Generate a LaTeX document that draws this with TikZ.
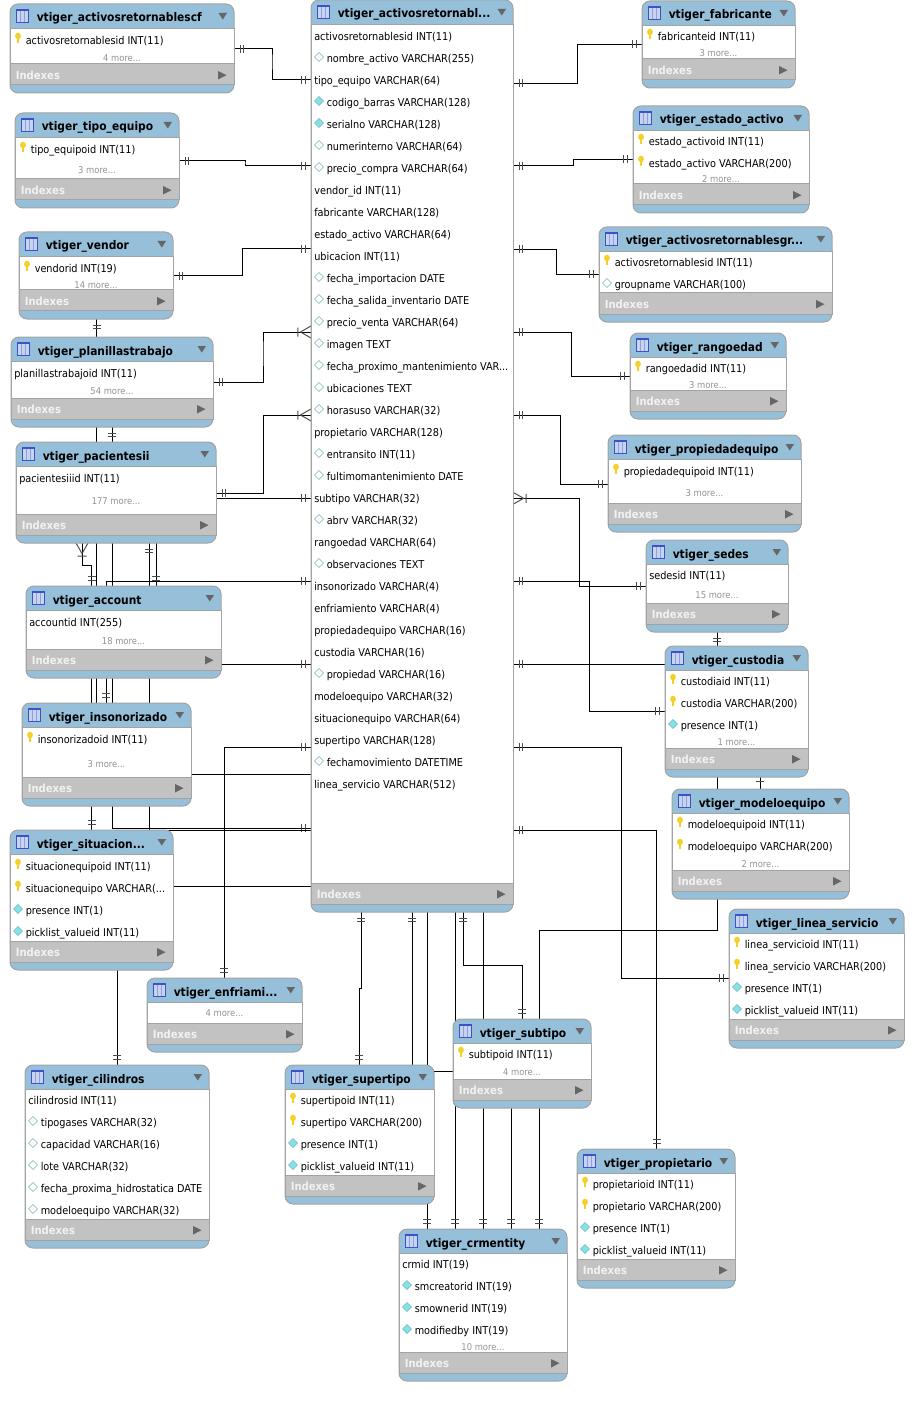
\documentclass[tikz,border=0pt]{standalone}
\usepackage{fontspec}
\setmainfont{DejaVu Sans Condensed}
\usetikzlibrary{backgrounds,decorations.markings}

\definecolor{headBlue}{HTML}{96BFDA}
\definecolor{frameGray}{HTML}{A3A3A3}
\definecolor{indexGray}{HTML}{C2C2C2}
\definecolor{triGray}{HTML}{666666}
\definecolor{keyYellow}{HTML}{F5D027}
\definecolor{iconBlue}{HTML}{3F50C8}
\definecolor{iconFill}{HTML}{C6D4EE}
\definecolor{diaCyan}{HTML}{7FE3E8}
\definecolor{diaEdge}{HTML}{7DB4BA}

\tikzset{
    x=0.75pt, y=-0.75pt,
    tableBox/.style={rectangle, rounded corners=6pt, draw=frameGray, fill=headBlue,
                     line width=0.75pt, inner sep=0pt, outer sep=0pt, anchor=north west},
    rowsBox/.style={rectangle, draw=frameGray, fill=white, line width=0.75pt,
                    inner sep=0pt, outer sep=0pt, anchor=north west},
    indexBox/.style={rectangle, draw=frameGray, fill=indexGray, line width=0.75pt,
                     inner sep=0pt, outer sep=0pt, anchor=north west},
    titleText/.style={anchor=base west, inner sep=0pt, font=\fontsize{8.9}{11}\selectfont\bfseries},
    rowText/.style={anchor=base west, inner sep=0pt, font=\fontsize{8.1}{10}\selectfont},
    moreText/.style={anchor=base, inner sep=0pt, text=gray!85, font=\fontsize{7}{9}\selectfont},
    indexText/.style={anchor=base west, inner sep=0pt, text=white!95!black, font=\fontsize{8.4}{10}\selectfont\bfseries},
    relLine/.style={draw=black, line width=0.75pt},
    tickLine/.style={draw=black!70, line width=0.75pt},
    oneStart/.style={postaction={decorate, decoration={markings,
        mark=at position 4.5pt with {\draw[tickLine] (0,-4) -- (0,4);},
        mark=at position 7.4pt with {\draw[tickLine] (0,-4) -- (0,4);}}}},
    oneEnd/.style={postaction={decorate, decoration={markings,
        mark=at position -7.4pt with {\draw[tickLine] (0,-4) -- (0,4);},
        mark=at position -4.5pt with {\draw[tickLine] (0,-4) -- (0,4);}}}},
    oneBar/.style={postaction={decorate, decoration={markings,
        mark=at position 3pt with {\draw[tickLine] (0,-4) -- (0,4);}}}},
    crowEnd/.style={postaction={decorate, decoration={markings,
        mark=at position -7.9pt with {\draw[tickLine] (10.5,-6) -- (0,0) -- (10.5,6) (-2.5,-4.5) -- (-2.5,4.5);}}}}
}

\newcommand{\trunc}{...}

% one row per kind: K key, C filled diamond, W open diamond, N plain, M "n more"
\newcommand{\rowN}[1]{\node[rowText] (#1-\ry) at (\tblL+3,\ry+4.4) {\rt};}
\newcommand{\rowK}[1]{%
    \fill[keyYellow] (\tblL+8,\ry-4) ellipse (2.9 and 3.3);
    \draw[keyYellow, line width=1.8pt] (\tblL+8,\ry-3) -- (\tblL+8,\ry+3);
    \node[rowText] (#1-\ry) at (\tblL+15.5,\ry+4.4) {\rt};}
\newcommand{\rowC}[1]{%
    \draw[diaEdge, fill=diaCyan] (\tblL+3.5,\ry-1) -- (\tblL+8,\ry-5.5) -- (\tblL+12.5,\ry-1) -- (\tblL+8,\ry+3.5) -- cycle;
    \node[rowText] (#1-\ry) at (\tblL+15.5,\ry+4.4) {\rt};}
\newcommand{\rowW}[1]{%
    \draw[diaEdge, fill=white] (\tblL+3.5,\ry-1) -- (\tblL+8,\ry-5.5) -- (\tblL+12.5,\ry-1) -- (\tblL+8,\ry+3.5) -- cycle;
    \node[rowText] (#1-\ry) at (\tblL+15.5,\ry+4.4) {\rt};}
\newcommand{\rowM}[1]{\node[moreText] (#1-\ry) at ({(\tblL+\tblR)/2},\ry+3.4) {\rt...};}

% name, left, right, top, end of rows, title, rows
\newcommand{\erTable}[7]{
    \pgfmathsetmacro{\tblL}{#2}
    \pgfmathsetmacro{\tblR}{#3}
    \node[tableBox, minimum width=(#3-#2)*0.75pt, minimum height=(#5+29-#4)*0.75pt] (#1) at (#2,#4) {};
    \node[rowsBox, minimum width=(#3-#2)*0.75pt, minimum height=(#5-#4-24.5)*0.75pt] (#1-rows) at (#2,#4+24.5) {};
    \node[indexBox, minimum width=(#3-#2)*0.75pt, minimum height=21*0.75pt] (#1-index) at (#2,#5) {};
    \node[titleText] (#1-title) at (#2+26.5,#4+18) {#6};
    \node[indexText] (#1-indexes) at (#2+5.5,#5+15.5) {Indexes};
    % table icon
    \draw[iconBlue, fill=iconFill, line width=0.6pt] (#2+6.5,#4+5.5) rectangle (#2+18.5,#4+18);
    \draw[iconBlue, line width=1pt] (#2+6.5,#4+6) -- (#2+18.5,#4+6);
    \draw[iconFill!60!iconBlue, line width=0.4pt] (#2+10.5,#4+7) -- (#2+10.5,#4+18) (#2+14.5,#4+7) -- (#2+14.5,#4+18);
    % the two grey triangles
    \fill[triGray] (#3-15.5,#4+9) -- (#3-7,#4+9) -- (#3-11.2,#4+15.5) -- cycle;
    \fill[triGray] (#3-16,#5+7) -- (#3-16,#5+15.5) -- (#3-7.5,#5+11.2) -- cycle;
    \foreach \ry/\rk/\rt in {#7} {\csname row\rk\endcsname{#1}}
}

\begin{document}
\begin{tikzpicture}
    \useasboundingbox (0,0) rectangle (915,1401);

    \erTable{central}{311}{513}{0}{883}{vtiger\_activosretornabl...}{
        36/N/activosretornablesid INT(11), 58/W/nombre\_activo VARCHAR(255), 80/N/tipo\_equipo VARCHAR(64),
        102/C/codigo\_barras VARCHAR(128), 124/C/serialno VARCHAR(128), 146/W/numerinterno VARCHAR(64),
        168/W/precio\_compra VARCHAR(64), 190/N/vendor\_id INT(11), 212/N/fabricante VARCHAR(128),
        234/N/estado\_activo VARCHAR(64), 256/N/ubicacion INT(11), 278/W/fecha\_importacion DATE,
        300/W/fecha\_salida\_inventario DATE, 322/W/precio\_venta VARCHAR(64), 344/W/imagen TEXT,
        366/W/fecha\_proximo\_mantenimiento VAR\trunc, 388/W/ubicaciones TEXT, 410/W/horasuso VARCHAR(32),
        432/N/propietario VARCHAR(128), 454/W/entransito INT(11), 476/W/fultimomantenimiento DATE,
        498/N/subtipo VARCHAR(32), 520/W/abrv VARCHAR(32), 542/N/rangoedad VARCHAR(64),
        564/W/observaciones TEXT, 586/N/insonorizado VARCHAR(4), 608/N/enfriamiento VARCHAR(4),
        630/N/propiedadequipo VARCHAR(16), 652/N/custodia VARCHAR(16), 674/W/propiedad VARCHAR(16),
        696/N/modeloequipo VARCHAR(32), 718/N/situacionequipo VARCHAR(64), 740/N/supertipo VARCHAR(128),
        762/W/fechamovimiento DATETIME, 784/N/linea\_servicio VARCHAR(512)}

    % left column
    \erTable{retornablescf}{10}{234}{4}{64}{vtiger\_activosretornablescf}{40/K/activosretornablesid INT(11), 58/M/4 more}
    \erTable{tipoEquipo}{15}{179}{113}{179}{vtiger\_tipo\_equipo}{149/K/tipo\_equipoid INT(11), 170/M/3 more}
    \erTable{vendor}{19}{173}{232}{290}{vtiger\_vendor}{268/K/vendorid INT(19), 285/M/14 more}
    \erTable{planillas}{11}{213}{337}{398}{vtiger\_planillastrabajo}{373/N/planillastrabajoid INT(11), 391/M/54 more}
    \erTable{pacientes}{16}{216}{442}{514}{vtiger\_pacientesii}{478/N/pacientesiiid INT(11), 501/M/177 more}
    \erTable{account}{26}{221}{586}{649}{vtiger\_account}{622/N/accountid INT(255), 641/M/18 more}
    \erTable{insonorizado}{22}{191}{703}{777}{vtiger\_insonorizado}{739/K/insonorizadoid INT(11), 764/M/3 more}
    \erTable{situacion}{10}{173}{830}{941}{vtiger\_situacion...}{
        866/K/situacionequipoid INT(11), 888/K/situacionequipo VARCHAR(\trunc, 910/C/presence INT(1), 932/C/picklist\_valueid INT(11)}
    \erTable{enfriamiento}{147}{302}{978}{1023}{vtiger\_enfriami...}{1013/M/4 more}
    \erTable{cilindros}{25}{209}{1065}{1219}{vtiger\_cilindros}{
        1100/N/cilindrosid INT(11), 1122/W/tipogases VARCHAR(32), 1144/W/capacidad VARCHAR(16),
        1166/W/lote VARCHAR(32), 1188/W/fecha\_proxima\_hidrostatica DATE, 1210/W/modeloequipo VARCHAR(32)}

    % bottom
    \erTable{supertipo}{285}{434}{1065}{1175}{vtiger\_supertipo}{
        1100/K/supertipoid INT(11), 1122/K/supertipo VARCHAR(200), 1144/C/presence INT(1), 1166/C/picklist\_valueid INT(11)}
    \erTable{subtipo}{453}{591}{1019}{1079}{vtiger\_subtipo}{1054/K/subtipoid INT(11), 1072/M/4 more}
    \erTable{crmentity}{399}{567}{1229}{1352}{vtiger\_crmentity}{
        1264/N/crmid INT(19), 1286/C/smcreatorid INT(19), 1308/C/smownerid INT(19), 1330/C/modifiedby INT(19), 1347/M/10 more}
    \erTable{propietario}{577}{735}{1149}{1259}{vtiger\_propietario}{
        1184/K/propietarioid INT(11), 1206/K/propietario VARCHAR(200), 1228/C/presence INT(1), 1250/C/picklist\_valueid INT(11)}

    % right column
    \erTable{fabricante}{642}{795}{1}{59}{vtiger\_fabricante}{36/K/fabricanteid INT(11), 53/M/3 more}
    \erTable{estado}{633}{809}{106}{184}{vtiger\_estado\_activo}{141/K/estado\_activoid INT(11), 163/K/estado\_activo VARCHAR(200), 179/M/2 more}
    \erTable{retornablesgr}{599}{832}{227}{293}{vtiger\_activosretornablesgr...}{262/K/activosretornablesid INT(11), 284/W/groupname VARCHAR(100)}
    \erTable{rangoedad}{630}{786}{333}{390}{vtiger\_rangoedad}{368/K/rangoedadid INT(11), 385/M/3 more}
    \erTable{propiedad}{608}{801}{435}{503}{vtiger\_propiedadequipo}{471/K/propiedadequipoid INT(11), 493/M/3 more}
    \erTable{sedes}{646}{788}{540}{603}{vtiger\_sedes}{575/N/sedesid INT(11), 595/M/15 more}
    \erTable{custodia}{665}{808}{646}{748}{vtiger\_custodia}{
        681/K/custodiaid INT(11), 703/K/custodia VARCHAR(200), 725/C/presence INT(1), 742/M/1 more}
    \erTable{modelo}{672}{849}{789}{870}{vtiger\_modeloequipo}{824/K/modeloequipoid INT(11), 846/K/modeloequipo VARCHAR(200), 864/M/2 more}
    \erTable{linea}{729}{904}{909}{1019}{vtiger\_linea\_servicio}{
        944/K/linea\_servicioid INT(11), 966/K/linea\_servicio VARCHAR(200), 988/C/presence INT(1), 1010/C/picklist\_valueid INT(11)}

    \begin{pgfonlayer}{background}
        % left side into the central table
        \draw[relLine, oneStart, oneEnd] (retornablescf.east |- 0,49) -| (272,60) |- (central.west |- 0,80);
        \draw[relLine, oneStart, oneEnd] (tipoEquipo.east |- 0,161) -| (245,163) |- (central.west |- 0,166);
        \draw[relLine, oneStart, oneEnd] (vendor.east |- 0,276) -| (242.5,260) |- (central.west |- 0,249);
        \draw[relLine, oneStart, crowEnd] (planillas.east |- 0,382) -| (263,350) |- (central.west |- 0,332);
        \draw[relLine, oneStart, crowEnd] (pacientes.east |- 0,493) -| (263.5,450) |- (central.west |- 0,415);
        \draw[relLine, oneEnd] (pacientes.east |- 0,498) -- (central.west |- 0,498);
        \draw[relLine, oneEnd] (account.east |- 0,664) -- (central.west |- 0,664);
        \draw[relLine] (situacion.east |- 0,886) -- (central.west |- 0,886);
        \draw[relLine] (planillas.south -| 96.5,0) |- (central.west |- 0,774);
        \draw[relLine, oneStart, oneEnd] (planillas.south -| 112.3,0) |- (central.west |- 0,828);
        \draw[relLine, oneStart] (pacientes.south -| 149,0) |- (central.west |- 0,830.3);
        \draw[relLine, oneStart, oneEnd] (insonorizado.north -| 106,0) |- (central.west |- 0,581);
        \draw[relLine, oneStart, oneEnd] (enfriamiento.north -| 224,0) |- (central.west |- 0,747);

        % between the left tables
        \draw[relLine, oneStart] (vendor.south -| 96.5,0) -- (planillas.north -| 96.5,0);
        \draw[relLine, oneStart, crowEnd] (account.north -| 91.7,0) |- (82,565) -- (pacientes.south -| 82,0);
        \draw[relLine, oneEnd] (pacientes.south -| 156,0) -- (account.north -| 156,0);
        \draw[relLine, oneEnd] (account.south -| 91.7,0) -- (situacion.north -| 91.7,0);
        \draw[relLine, oneEnd] (situacion.south -| 117.3,0) -- (cilindros.north -| 117.3,0);

        % below the central table
        \draw[relLine, oneStart, oneEnd] (central.south -| 361,0) -- (361,988) -- (359.3,988) -- (supertipo.north -| 359.3,0);
        \draw[relLine, oneStart] (central.south -| 412.3,0) -- (supertipo.north -| 412.3,0);
        \draw[relLine, oneEnd] (central.south -| 427.3,0) -- (crmentity.north -| 427.3,0);
        \draw[relLine, oneEnd] (central.south -| 455.3,0) -- (crmentity.north -| 455.3,0);
        \draw[relLine, oneStart, oneEnd] (central.south -| 463.3,0) |- (522.3,965.3) -- (subtipo.north -| 522.3,0);
        \draw[relLine, oneEnd] (central.south -| 483.3,0) -- (crmentity.north -| 483.3,0);
        \draw[relLine, oneEnd] (subtipo.south -| 511.3,0) -- (crmentity.north -| 511.3,0);
        \draw[relLine] (supertipo.east |- 0,1071) -- (subtipo.west |- 0,1071);
        \draw[relLine, oneStart] (crmentity.north -| 539.3,0) |- (717.3,930.3) -- (custodia.south -| 717.3,0);

        % right side
        \draw[relLine, oneStart, oneEnd] (central.east |- 0,83.5) -| (577.5,60) |- (fabricante.west |- 0,44.5);
        \draw[relLine, oneStart, oneEnd] (central.east |- 0,166) -| (573.3,163) |- (estado.west |- 0,159.5);
        \draw[relLine, oneStart, oneEnd] (central.east |- 0,249.3) -| (556.7,260) |- (retornablesgr.west |- 0,274.3);
        \draw[relLine, oneStart, oneEnd] (central.east |- 0,332.3) -| (571.3,350) |- (rangoedad.west |- 0,376.3);
        \draw[relLine, oneStart, oneEnd] (central.east |- 0,415) -| (560.3,450) |- (propiedad.west |- 0,484.3);
        \draw[relLine, oneStart, crowEnd] (sedes.west |- 0,586.3) -| (579.3,540) |- (central.east |- 0,498.3);
        \draw[relLine, oneStart, oneEnd] (central.east |- 0,581.3) -| (589.3,650) |- (custodia.west |- 0,711.3);
        \draw[relLine, oneStart] (central.east |- 0,664.3) -- (custodia.west |- 0,664.3);
        \draw[relLine, oneStart] (sedes.south -| 717.3,0) -- (custodia.north -| 717.3,0);
        \draw[relLine, oneBar] (custodia.south -| 760,0) -- (modelo.north -| 760,0);
        \draw[relLine, oneStart, oneEnd] (central.east |- 0,747) -| (621.3,900) |- (linea.west |- 0,978.3);
        \draw[relLine, oneStart, oneEnd] (central.east |- 0,830) -| (propietario.north -| 656.5,0);
    \end{pgfonlayer}
\end{tikzpicture}
\end{document}
